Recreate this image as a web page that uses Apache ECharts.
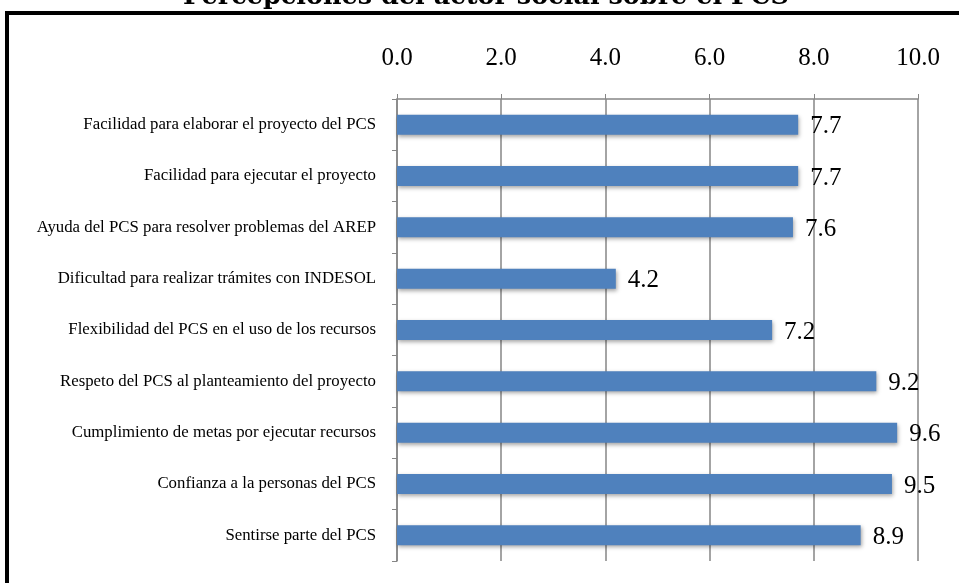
<!DOCTYPE html>
<html><head><meta charset="utf-8">
<script src="https://cdn.jsdelivr.net/npm/echarts@6/dist/echarts.min.js"></script>
<style>html,body{margin:0;padding:0;background:#fff}#c{width:959px;height:583px}</style>
</head><body><div id="c"></div>
<script>
const titleText = "Percepciones del actor social sobre el PCS";
const categories = [
  "Facilidad para elaborar el proyecto del PCS",
  "Facilidad para ejecutar el proyecto",
  "Ayuda del PCS para resolver problemas del AREP",
  "Dificultad para realizar trámites con INDESOL",
  "Flexibilidad del PCS en el uso de los recursos",
  "Respeto del PCS al planteamiento del proyecto",
  "Cumplimiento de metas por ejecutar recursos",
  "Confianza a la personas del PCS",
  "Sentirse parte del PCS"
];
const values = [7.7, 7.7, 7.6, 4.2, 7.2, 9.2, 9.6, 9.5, 8.9];
const axisMin = 0, axisMax = 10, axisStep = 2;

const serif = "'Liberation Serif', 'DejaVu Serif', serif";
const chart = echarts.init(document.getElementById('c'), null, {renderer: 'canvas'});
chart.setOption({
  animation: false,
  backgroundColor: '#fff',
  graphic: [
    {type: 'rect', shape: {x: 7, y: 13, width: 1000, height: 700}, style: {fill: 'none', stroke: '#000', lineWidth: 4}},
    {type: 'text', x: 486, y: -16, style: {text: titleText, font: "bold 25.5px 'DejaVu Serif', serif", fill: '#000', align: 'center', verticalAlign: 'top'}}
  ],
  grid: {left: 397, right: 41, top: 99, bottom: 22, containLabel: false},
  xAxis: {
    type: 'value', position: 'top', min: axisMin, max: axisMax, interval: axisStep,
    axisLine: {show: true, lineStyle: {color: '#868686', width: 1.5}},
    axisTick: {show: true, length: 5, lineStyle: {color: '#868686'}},
    splitLine: {show: true, lineStyle: {color: '#868686', width: 1.5}},
    axisLabel: {margin: 28, formatter: v => v.toFixed(1), fontFamily: serif, fontSize: 25, color: '#000'}
  },
  yAxis: {
    type: 'category', data: categories, inverse: true,
    axisLine: {show: true, lineStyle: {color: '#868686', width: 1.5}},
    axisTick: {show: true, length: 5, lineStyle: {color: '#868686'}},
    axisLabel: {margin: 21, fontFamily: serif, fontSize: 16.8, color: '#000'}
  },
  series: [{
    type: 'bar', data: values, barWidth: 20,
    itemStyle: {color: '#4F81BD', shadowBlur: 4, shadowOffsetY: 2, shadowOffsetX: 1, shadowColor: 'rgba(0,0,0,0.35)'},
    label: {show: true, position: 'right', distance: 12, formatter: p => p.value.toFixed(1), fontFamily: serif, fontSize: 25, color: '#000', offset: [0, 2]}
  }]
});
</script></body></html>
